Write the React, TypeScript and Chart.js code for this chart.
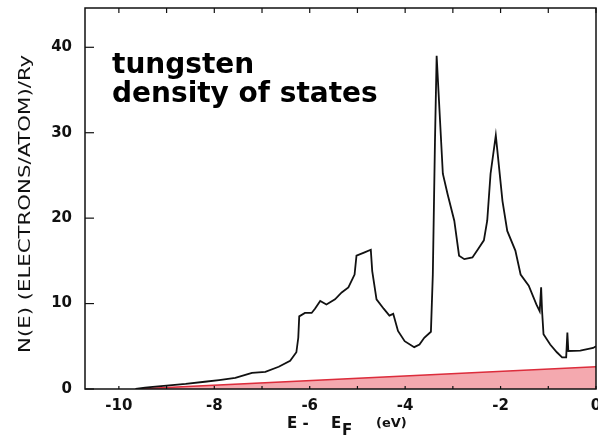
import React, { useEffect, useRef } from "react";
import { Chart, registerables } from "chart.js";

Chart.register(...registerables);

// Density of states of tungsten
const energy: number[] = [
  -9.65, -9.45, -9.29, -9.0, -8.6, -8.2, -7.9, -7.56, -7.35, -7.21, -6.93, -6.65,
  -6.41, -6.28, -6.24, -6.22, -6.1, -5.96, -5.89, -5.78, -5.65, -5.47, -5.33,
  -5.19, -5.06, -5.02, -4.85, -4.72, -4.69, -4.6, -4.45, -4.33, -4.25, -4.15,
  -4.01, -3.81, -3.7, -3.6, -3.46, -3.42, -3.375, -3.34, -3.28, -3.21, -3.11,
  -2.97, -2.87, -2.76, -2.59, -2.47, -2.35, -2.28, -2.21, -2.1, -2.06, -1.96,
  -1.86, -1.69, -1.58, -1.41, -1.25, -1.18, -1.15, -1.13, -1.1, -0.96, -0.82,
  -0.71, -0.625, -0.6, -0.58, -0.33, -0.06, 0,
];
const dos: number[] = [
  0, 0.15, 0.25, 0.4, 0.6, 0.85, 1.05, 1.3, 1.65, 1.9, 2.0, 2.6,
  3.3, 4.3, 6.0, 8.5, 8.9, 8.9, 9.4, 10.3, 9.9, 10.5, 11.3,
  11.9, 13.4, 15.6, 16.0, 16.3, 13.8, 10.5, 9.4, 8.6, 8.8, 6.8,
  5.6, 4.9, 5.2, 6.0, 6.7, 13.4, 29.0, 39.0, 32.6, 25.2, 22.8,
  19.7, 15.6, 15.2, 15.4, 16.4, 17.4, 19.7, 25.2, 29.7, 27.5, 22.0,
  18.5, 16.2, 13.4, 12.1, 9.9, 9.1, 11.9, 9.1, 6.4, 5.2, 4.3,
  3.7, 3.7, 6.6, 4.45, 4.5, 4.8, 5.0,
];

// free-electron-like reference line (red, filled)
const freeEnergy: number[] = [-9.65, 0];
const freeDos: number[] = [0, 2.6];

const xTickValues: number[] = [-10, -9, -8, -7, -6, -5, -4, -3, -2, -1, 0];
const xTickLabels: string[] = ["-10", "", "-8", "", "-6", "", "-4", "", "-2", "", "0"];
const yTickValues: number[] = [0, 10, 20, 30, 40];
const yTickLabels: string[] = ["0", "10", "20", "30", "40"];

const titleLines: string[] = ["tungsten", "density of states"];
const yAxisTitle = "N(E) (ELECTRONS/ATOM)/Ry";

const X_MIN = -10.71;
const X_MAX = 0;
const Y_MIN = 0;
const Y_MAX = 44.6;

const AXIS_FONT = '"DejaVu Sans", sans-serif';
const YTITLE_FONT = '"DejaVu Sans Condensed", "DejaVu Sans", sans-serif';

const decorPlugin = {
  id: "decor",
  afterDraw(chart: any) {
    const ctx: CanvasRenderingContext2D = chart.ctx;
    const { left, right, top, bottom } = chart.chartArea;
    const xs = chart.scales.x;
    const ys = chart.scales.y;
    ctx.save();
    // frame
    ctx.strokeStyle = "#111";
    ctx.lineWidth = 1.5;
    ctx.strokeRect(left, top, right - left, bottom - top);

    // y ticks (inward)
    ctx.lineWidth = 1.2;
    yTickValues.forEach((v) => {
      const py = ys.getPixelForValue(v);
      ctx.beginPath();
      ctx.moveTo(left, py);
      ctx.lineTo(left + 9, py);
      ctx.stroke();
    });
    // x ticks bottom (small) and top
    xTickValues.forEach((v) => {
      const px = xs.getPixelForValue(v);
      ctx.beginPath();
      ctx.moveTo(px, bottom);
      ctx.lineTo(px, bottom - 3);
      ctx.moveTo(px, top);
      ctx.lineTo(px, top + 5);
      ctx.stroke();
    });

    // tick labels
    ctx.fillStyle = "#111";
    ctx.font = `bold 15px ${AXIS_FONT}`;
    ctx.textAlign = "right";
    ctx.textBaseline = "middle";
    yTickValues.forEach((v, i) => {
      ctx.fillText(yTickLabels[i], 72, ys.getPixelForValue(v));
    });
    ctx.textAlign = "center";
    ctx.textBaseline = "alphabetic";
    xTickValues.forEach((v, i) => {
      if (xTickLabels[i]) ctx.fillText(xTickLabels[i], xs.getPixelForValue(v), 410);
    });

    // x axis title: E - E_F (eV)
    ctx.textAlign = "left";
    ctx.font = `bold 15px ${AXIS_FONT}`;
    ctx.fillText("E -", 287, 428);
    ctx.fillText("E", 331, 428);
    ctx.fillText("F", 342, 435);
    ctx.font = `bold 13px ${AXIS_FONT}`;
    ctx.fillText("(eV)", 376, 427);

    // y axis title (rotated)
    ctx.save();
    ctx.translate(30, 204);
    ctx.rotate(-Math.PI / 2);
    ctx.font = `15px ${YTITLE_FONT}`;
    ctx.textAlign = "center";
    ctx.textBaseline = "alphabetic";
    const w = ctx.measureText(yAxisTitle).width;
    const target = 298;
    ctx.scale(target / w, 1);
    ctx.fillText(yAxisTitle, 0, 0);
    ctx.restore();

    // big title
    ctx.font = 'bold 28px "DejaVu Sans", sans-serif';
    ctx.textAlign = "left";
    ctx.fillStyle = "#000";
    ctx.fillText(titleLines[0], 112, 73);
    ctx.fillText(titleLines[1], 112, 102);
    ctx.restore();
  },
};

export default function App() {
  const ref = useRef<HTMLCanvasElement | null>(null);
  useEffect(() => {
    if (!ref.current) return;
    const chart = new Chart(ref.current, {
      type: "line",
      data: {
        datasets: [
          {
            label: "DOS",
            data: energy.map((e, i) => ({ x: e, y: dos[i] })),
            borderColor: "#111",
            borderWidth: 1.8,
            pointRadius: 0,
            tension: 0,
            fill: false,
          },
          {
            label: "free electron",
            data: freeEnergy.map((e, i) => ({ x: e, y: freeDos[i] })),
            borderColor: "rgb(220,45,60)",
            backgroundColor: "rgba(236,112,122,0.6)",
            borderWidth: 1.6,
            pointRadius: 0,
            tension: 0,
            fill: "origin",
          },
        ],
      },
      options: {
        responsive: false,
        animation: false,
        layout: { padding: { left: 85, right: 2, top: 8, bottom: 47 } },
        plugins: { legend: { display: false }, tooltip: { enabled: false } },
        scales: {
          x: { type: "linear", min: X_MIN, max: X_MAX, display: false },
          y: { type: "linear", min: Y_MIN, max: Y_MAX, display: false },
        },
      },
      plugins: [decorPlugin],
    });
    return () => chart.destroy();
  }, []);
  return (
    <div style={{ position: "fixed", left: 0, top: 0, width: 598, height: 436, background: "#fff" }}>
      <canvas ref={ref} width={598} height={436} />
    </div>
  );
}
